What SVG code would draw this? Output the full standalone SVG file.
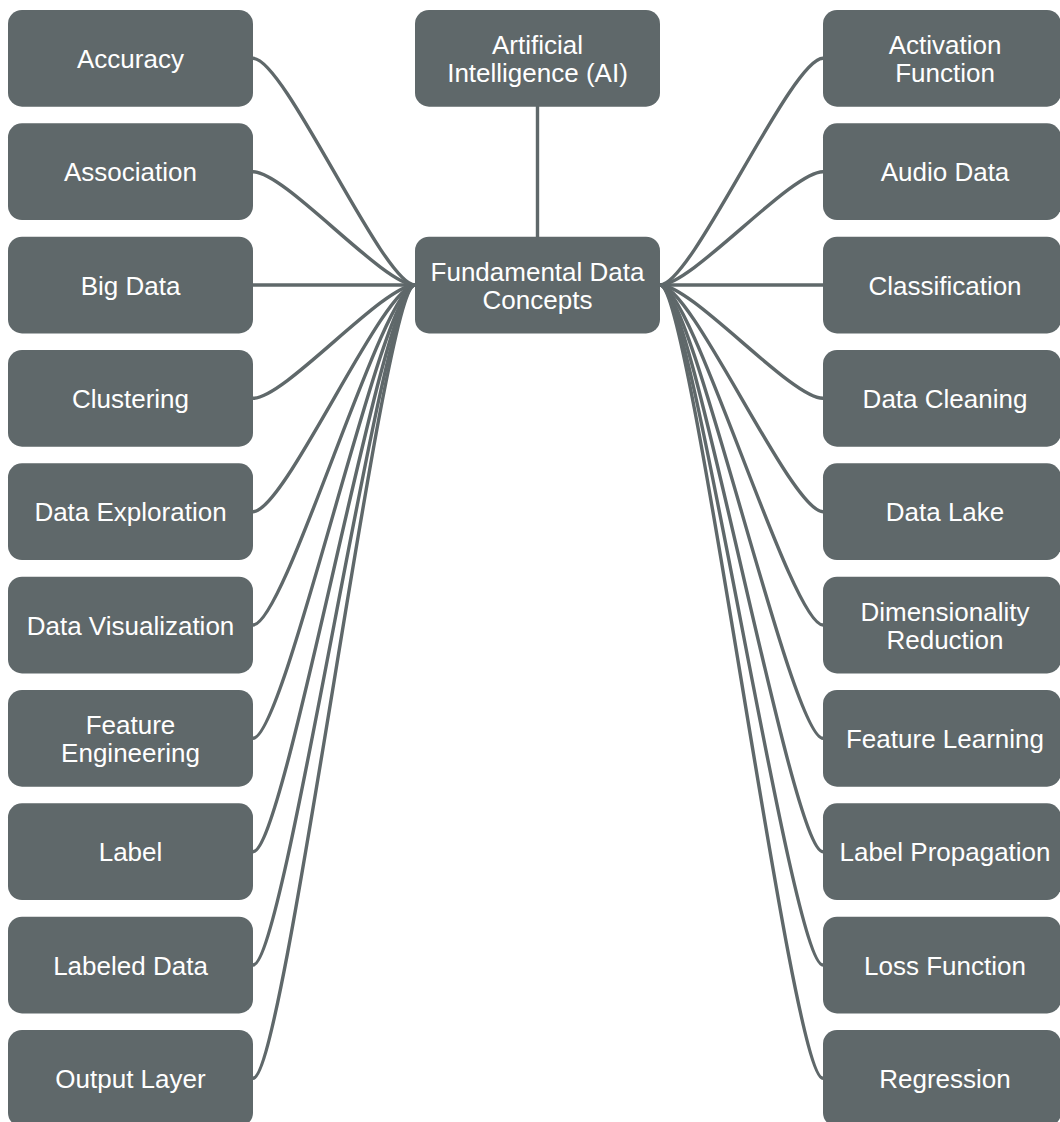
<svg xmlns="http://www.w3.org/2000/svg" width="1060" height="1122" viewBox="0 0 1060 1122">
  <style>
    .box { fill: #5f686a; }
    .lbl { fill: #ffffff; font-family: "Liberation Sans", Arial, sans-serif; font-size: 26px; text-anchor: middle; }
    .link { fill: none; stroke: #5f686a; stroke-width: 3.4; }
  </style>
  <rect width="1060" height="1122" fill="#ffffff"/>

  <!-- connectors: hub to each topic -->
  <g id="connectors">
    <line class="link" x1="537.5" y1="106" x2="537.5" y2="238"/>
    <!-- left side -->
    <path class="link" d="M253,58.3 C285,58.3 383,285 415,285"/>
    <path class="link" d="M253,171.7 C285,171.7 383,285 415,285"/>
    <path class="link" d="M253,285 C285,285 383,285 415,285"/>
    <path class="link" d="M253,398.3 C285,398.3 383,285 415,285"/>
    <path class="link" d="M253,511.7 C285,511.7 383,285 415,285"/>
    <path class="link" d="M253,625 C285,625 383,285 415,285"/>
    <path class="link" d="M253,738.3 C285,738.3 383,285 415,285"/>
    <path class="link" d="M253,851.7 C285,851.7 383,285 415,285"/>
    <path class="link" d="M253,965 C285,965 383,285 415,285"/>
    <path class="link" d="M253,1078.3 C285,1078.3 383,285 415,285"/>
    <!-- right side -->
    <path class="link" d="M660,285 C692,285 791,58.3 823,58.3"/>
    <path class="link" d="M660,285 C692,285 791,171.7 823,171.7"/>
    <path class="link" d="M660,285 C692,285 791,285 823,285"/>
    <path class="link" d="M660,285 C692,285 791,398.3 823,398.3"/>
    <path class="link" d="M660,285 C692,285 791,511.7 823,511.7"/>
    <path class="link" d="M660,285 C692,285 791,625 823,625"/>
    <path class="link" d="M660,285 C692,285 791,738.3 823,738.3"/>
    <path class="link" d="M660,285 C692,285 791,851.7 823,851.7"/>
    <path class="link" d="M660,285 C692,285 791,965 823,965"/>
    <path class="link" d="M660,285 C692,285 791,1078.3 823,1078.3"/>
  </g>

  <!-- central nodes -->
  <g id="node-ai">
    <rect class="box" x="415" y="10" width="245" height="96.7" rx="14"/>
    <text class="lbl" x="537.5" y="54"><tspan x="537.5">Artificial</tspan><tspan x="537.5" dy="28">Intelligence (AI)</tspan></text>
  </g>
  <g id="node-fundamental">
    <rect class="box" x="415" y="236.7" width="245" height="96.7" rx="14"/>
    <text class="lbl" x="537.5" y="280.5"><tspan x="537.5">Fundamental Data</tspan><tspan x="537.5" dy="28">Concepts</tspan></text>
  </g>

  <!-- left column -->
  <g id="node-accuracy">
    <rect class="box" x="8" y="10" width="245" height="96.7" rx="14"/>
    <text class="lbl" x="130.5" y="67.8">Accuracy</text>
  </g>
  <g id="node-association">
    <rect class="box" x="8" y="123.3" width="245" height="96.7" rx="14"/>
    <text class="lbl" x="130.5" y="181.2">Association</text>
  </g>
  <g id="node-big-data">
    <rect class="box" x="8" y="236.7" width="245" height="96.7" rx="14"/>
    <text class="lbl" x="130.5" y="294.5">Big Data</text>
  </g>
  <g id="node-clustering">
    <rect class="box" x="8" y="350" width="245" height="96.7" rx="14"/>
    <text class="lbl" x="130.5" y="407.8">Clustering</text>
  </g>
  <g id="node-data-exploration">
    <rect class="box" x="8" y="463.3" width="245" height="96.7" rx="14"/>
    <text class="lbl" x="130.5" y="521.2">Data Exploration</text>
  </g>
  <g id="node-data-visualization">
    <rect class="box" x="8" y="576.7" width="245" height="96.7" rx="14"/>
    <text class="lbl" x="130.5" y="634.5">Data Visualization</text>
  </g>
  <g id="node-feature-engineering">
    <rect class="box" x="8" y="690" width="245" height="96.7" rx="14"/>
    <text class="lbl" x="130.5" y="733.8"><tspan x="130.5">Feature</tspan><tspan x="130.5" dy="28">Engineering</tspan></text>
  </g>
  <g id="node-label">
    <rect class="box" x="8" y="803.3" width="245" height="96.7" rx="14"/>
    <text class="lbl" x="130.5" y="861.2">Label</text>
  </g>
  <g id="node-labeled-data">
    <rect class="box" x="8" y="916.7" width="245" height="96.7" rx="14"/>
    <text class="lbl" x="130.5" y="974.5">Labeled Data</text>
  </g>
  <g id="node-output-layer">
    <rect class="box" x="8" y="1030" width="245" height="96.7" rx="14"/>
    <text class="lbl" x="130.5" y="1087.8">Output Layer</text>
  </g>

  <!-- right column -->
  <g id="node-activation-function">
    <rect class="box" x="823" y="10" width="238" height="96.7" rx="14"/>
    <text class="lbl" x="945" y="54"><tspan x="945">Activation</tspan><tspan x="945" dy="28">Function</tspan></text>
  </g>
  <g id="node-audio-data">
    <rect class="box" x="823" y="123.3" width="238" height="96.7" rx="14"/>
    <text class="lbl" x="945" y="181.2">Audio Data</text>
  </g>
  <g id="node-classification">
    <rect class="box" x="823" y="236.7" width="238" height="96.7" rx="14"/>
    <text class="lbl" x="945" y="294.5">Classification</text>
  </g>
  <g id="node-data-cleaning">
    <rect class="box" x="823" y="350" width="238" height="96.7" rx="14"/>
    <text class="lbl" x="945" y="407.8">Data Cleaning</text>
  </g>
  <g id="node-data-lake">
    <rect class="box" x="823" y="463.3" width="238" height="96.7" rx="14"/>
    <text class="lbl" x="945" y="521.2">Data Lake</text>
  </g>
  <g id="node-dimensionality-reduction">
    <rect class="box" x="823" y="576.7" width="238" height="96.7" rx="14"/>
    <text class="lbl" x="945" y="620.5"><tspan x="945">Dimensionality</tspan><tspan x="945" dy="28">Reduction</tspan></text>
  </g>
  <g id="node-feature-learning">
    <rect class="box" x="823" y="690" width="238" height="96.7" rx="14"/>
    <text class="lbl" x="945" y="747.8">Feature Learning</text>
  </g>
  <g id="node-label-propagation">
    <rect class="box" x="823" y="803.3" width="238" height="96.7" rx="14"/>
    <text class="lbl" x="945" y="861.2">Label Propagation</text>
  </g>
  <g id="node-loss-function">
    <rect class="box" x="823" y="916.7" width="238" height="96.7" rx="14"/>
    <text class="lbl" x="945" y="974.5">Loss Function</text>
  </g>
  <g id="node-regression">
    <rect class="box" x="823" y="1030" width="238" height="96.7" rx="14"/>
    <text class="lbl" x="945" y="1087.8">Regression</text>
  </g>
</svg>
